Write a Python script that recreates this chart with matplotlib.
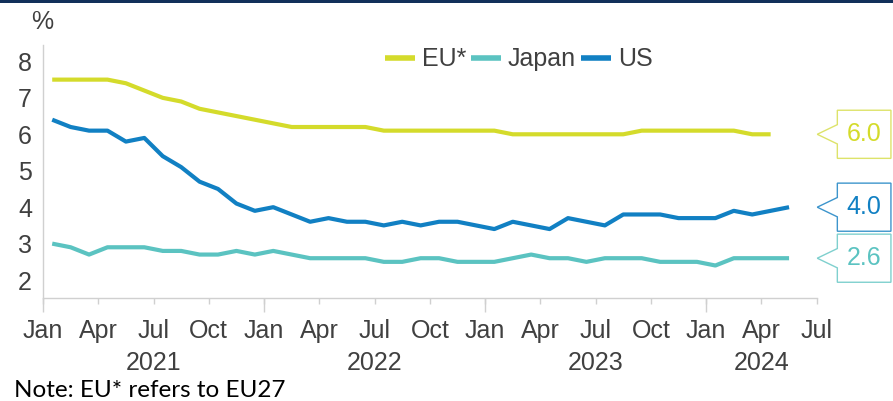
import matplotlib
matplotlib.use("Agg")
import matplotlib.pyplot as plt
from matplotlib.patches import Polygon, Rectangle
import numpy as np

# monthly unemployment rate, Jan 2021 onwards
eu = [7.5, 7.5, 7.5, 7.5, 7.4, 7.2, 7.0, 6.9, 6.7, 6.6, 6.5, 6.4,
      6.3, 6.2, 6.2, 6.2, 6.2, 6.2, 6.1, 6.1, 6.1, 6.1, 6.1, 6.1,
      6.1, 6.0, 6.0, 6.0, 6.0, 6.0, 6.0, 6.0, 6.1, 6.1, 6.1, 6.1,
      6.1, 6.1, 6.0, 6.0]
japan = [3.0, 2.9, 2.7, 2.9, 2.9, 2.9, 2.8, 2.8, 2.7, 2.7, 2.8, 2.7,
         2.8, 2.7, 2.6, 2.6, 2.6, 2.6, 2.5, 2.5, 2.6, 2.6, 2.5, 2.5,
         2.5, 2.6, 2.7, 2.6, 2.6, 2.5, 2.6, 2.6, 2.6, 2.5, 2.5, 2.5,
         2.4, 2.6, 2.6, 2.6, 2.6]
us = [6.4, 6.2, 6.1, 6.1, 5.8, 5.9, 5.4, 5.1, 4.7, 4.5, 4.1, 3.9,
      4.0, 3.8, 3.6, 3.7, 3.6, 3.6, 3.5, 3.6, 3.5, 3.6, 3.6, 3.5,
      3.4, 3.6, 3.5, 3.4, 3.7, 3.6, 3.5, 3.8, 3.8, 3.8, 3.7, 3.7,
      3.7, 3.9, 3.8, 3.9, 4.0]

series_names = ["EU*", "Japan", "US"]
colors = ["#d4db2b", "#5bc3c1", "#1180c3"]
edge_colors = ["#dde36a", "#7fd0ce", "#3d95cc"]

month_labels = ["Jan", "Apr", "Jul", "Oct"] * 3 + ["Jan", "Apr", "Jul"]
years = ["2021", "2022", "2023", "2024"]
n_months = 42

text_col = "#404040"
axis_col = "#d0d0d0"
fs = 18
plt.rcParams["font.family"] = ["Liberation Sans", "DejaVu Sans"]

fig = plt.figure(figsize=(8.93, 4.01), dpi=100)
ax = fig.add_axes([43 / 893, 1 - 298.3 / 401, (816.7 - 43) / 893, (298.3 - 45) / 401])

for vals, name, c in zip([eu, japan, us], series_names, colors):
    x = np.arange(len(vals)) + 0.5
    ax.plot(x, vals, color=c, lw=3, label=name, solid_capstyle="butt",
            solid_joinstyle="round")

ax.set_xlim(0, n_months)
ax.set_ylim(1.5, 8.45)

for s in ["top", "right"]:
    ax.spines[s].set_visible(False)
for s in ["left", "bottom"]:
    ax.spines[s].set_color(axis_col)
    ax.spines[s].set_linewidth(1.0)

ax.set_yticks(range(2, 9))
ax.tick_params(axis="y", length=0, pad=8, labelsize=fs, labelcolor=text_col)

ax.xaxis.remove_overlapping_locs = False
ax.set_xticks(np.arange(0, n_months + 1, 3))
ax.set_xticklabels(month_labels)
ax.set_xticks(np.arange(0, n_months, 12), minor=True)
ax.tick_params(axis="x", which="major", length=4, width=1.0, color=axis_col,
               pad=11, labelsize=fs, labelcolor=text_col)
ax.tick_params(axis="x", which="minor", length=10, width=1.0, color=axis_col)

# year labels centred under each year's span
for k, yr in enumerate(years):
    lo, hi = 12 * k, min(12 * (k + 1), n_months)
    ax.annotate(yr, xy=((lo + hi) / 2, 0), xycoords=ax.get_xaxis_transform(),
                xytext=(0, -46.5), textcoords="offset points",
                ha="center", va="center", fontsize=fs, color=text_col)

# callouts with last values
for vals, c, ec in zip([eu, us, japan], [colors[0], colors[2], colors[1]],
                       [edge_colors[0], edge_colors[2], edge_colors[1]]):
    v = vals[-1]
    tip, left, right = 42.03, 43.12, 46.03
    h, ph = 0.66, 0.265
    pts = [(tip, v), (left, v + ph), (left, v + h), (right, v + h),
           (right, v - h), (left, v - h), (left, v - ph)]
    ax.add_patch(Polygon(pts, closed=True, facecolor="white", edgecolor=ec,
                         lw=1.0, clip_on=False, zorder=5))
    ax.text((left + right) / 2, v, f"{v:.1f}", ha="center", va="center",
            fontsize=fs, color=c, zorder=6, clip_on=False)

leg = fig.legend(loc="center left", bbox_to_anchor=(385 / 893, 1 - 59.3 / 401),
                 ncol=3, frameon=False, fontsize=fs, handlelength=1.2,
                 handletextpad=0.27, columnspacing=0.2, borderpad=0,
                 borderaxespad=0)
for t in leg.get_texts():
    t.set_color(text_col)
for l in leg.get_lines():
    l.set_linewidth(4)

fig.text(42 / 893, 1 - 21.7 / 401, "%", ha="center", va="center",
         fontsize=fs, color=text_col)
fig.text(14 / 893, 1 - 390.5 / 401, "Note: EU* refers to EU27", ha="left",
         va="center", fontsize=17.5, color="black", family=["Lato", "DejaVu Sans"])

fig.patches.append(Rectangle((0, 1 - 3 / 401), 1, 3 / 401, transform=fig.transFigure,
                             facecolor="#12305a", edgecolor="none"))

fig.savefig("out.png", dpi=100)
